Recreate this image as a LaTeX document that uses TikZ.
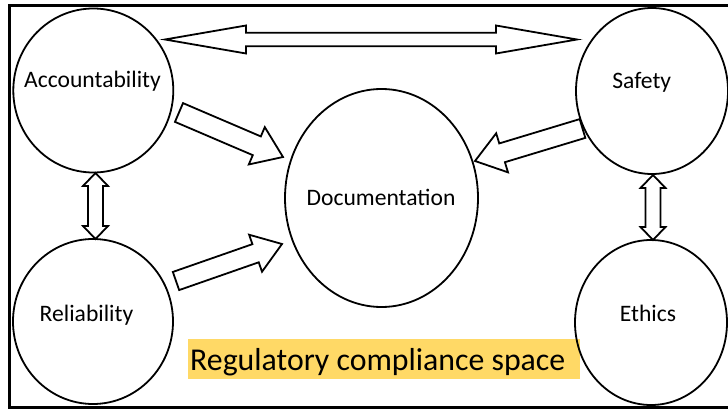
\documentclass[tikz,border=0pt]{standalone}
\usepackage{fontspec}
\setmainfont{Carlito}
\usetikzlibrary{calc,shapes.geometric}
\definecolor{hilite}{HTML}{FFD966}
\tikzset{
  bubble/.style={draw, ellipse, line width=1.8pt, inner sep=0pt},
  lbl/.style={font=\fontsize{23.6}{28}\selectfont, anchor=base, inner sep=0pt},
  biglbl/.style={font=\fontsize{31.8}{38}\selectfont, anchor=base west, inner sep=0pt},
  blockline/.style={draw, line width=1.8pt, line join=miter},
  frame/.style={draw, line width=2.6pt}
}
% single block arrow: tail, tip, half shaft width, half head width, head length
\newcommand\singleblock[5]{%
  \coordinate (sb-h) at ($(#2)!#5!(#1)$);
  \draw[blockline] ($(#1)!#3!90:(#2)$) -- ($(sb-h)!#3!90:(#2)$) -- ($(sb-h)!#4!90:(#2)$)
    -- (#2) -- ($(sb-h)!#4!-90:(#2)$) -- ($(sb-h)!#3!-90:(#2)$) -- ($(#1)!#3!-90:(#2)$) -- cycle;
}
% double block arrow: tip, tip, half shaft width, half head width, head length
\newcommand\doubleblock[5]{%
  \coordinate (db-a) at ($(#1)!#5!(#2)$);
  \coordinate (db-b) at ($(#2)!#5!(#1)$);
  \draw[blockline] (#1) -- ($(db-a)!#4!90:(#2)$) -- ($(db-a)!#3!90:(#2)$)
    -- ($(db-b)!#3!-90:(#1)$) -- ($(db-b)!#4!-90:(#1)$) -- (#2)
    -- ($(db-b)!#4!90:(#1)$) -- ($(db-b)!#3!90:(#1)$)
    -- ($(db-a)!#3!-90:(#2)$) -- ($(db-a)!#4!-90:(#2)$) -- cycle;
}
\begin{document}
\begin{tikzpicture}[x=1pt,y=-1pt]
\useasboundingbox (0,0) rectangle (728,409);
\clip (0,0) rectangle (728,409);

% outer frame
\draw[frame] (9.5,5.3) rectangle (780,407.6);

% highlighted caption
\fill[hilite] (188,339.3) rectangle (580,379);
\node[biglbl] (space) at (190,370) {Regulatory compliance space};

% the five bubbles
\node[bubble, minimum width=160pt, minimum height=164pt] (acc) at (93.3,90.5) {};
\node[bubble, minimum width=160pt, minimum height=165pt] (rel) at (93,321.5) {};
\node[bubble, minimum width=193pt, minimum height=218pt] (doc) at (381.5,198) {};
\node[bubble, minimum width=152pt, minimum height=166pt] (saf) at (652,91) {};
\node[bubble, minimum width=152pt, minimum height=165pt] (eth) at (651,322.5) {};

\node[lbl] (acc-t) at (92.5,87.3) {Accountability};
\node[lbl] (rel-t) at (86.5,321) {Reliability};
\node[lbl] (doc-t) at (381,205.5) {Documentation};
\node[lbl] (saf-t) at (641.7,88.3) {Safety};
\node[lbl] (eth-t) at (648,321) {Ethics};

% arrow end points
\coordinate (as-l) at (165,39.5);
\coordinate (as-r) at (577,39.5);
\coordinate (ar-t) at (95.5,173);
\coordinate (ar-b) at (95.5,239);
\coordinate (se-t) at (653,175);
\coordinate (se-b) at (653,240);
\coordinate (ad-tail) at (179,112.5);
\coordinate (ad-tip) at (283,157);
\coordinate (rd-tail) at (176,281);
\coordinate (rd-tip) at (282,244);
\coordinate (sd-tail) at (582.5,128.5);
\coordinate (sd-tip) at (475,161);

\doubleblock{as-l}{as-r}{6.8pt}{14pt}{81pt}
\doubleblock{ar-t}{ar-b}{7.5pt}{12.5pt}{13pt}
\doubleblock{se-t}{se-b}{7.5pt}{12.5pt}{13pt}
\singleblock{ad-tail}{ad-tip}{10.2pt}{20.3pt}{28.5pt}
\singleblock{rd-tail}{rd-tip}{9.6pt}{19.6pt}{28pt}
\singleblock{sd-tail}{sd-tip}{9.8pt}{20.4pt}{28.3pt}
\end{tikzpicture}
\end{document}
